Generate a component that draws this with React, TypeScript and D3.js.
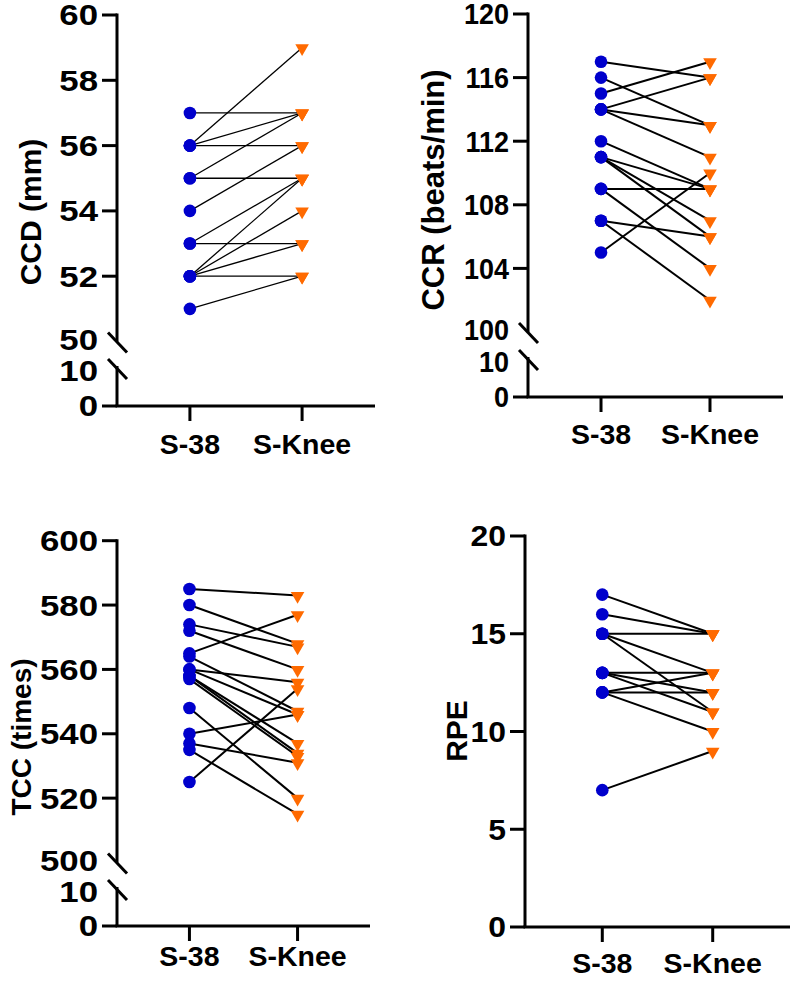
import React from "react";
import * as d3 from "d3";

// ---------- DATA ----------
const categories = ["S-38", "S-Knee"];

// CCD (mm)
const ccdS38 = [57, 56, 56, 56, 55, 55, 54, 53, 53, 52, 52, 52, 52, 51];
const ccdSKnee = [57, 59, 57, 56, 57, 55, 56, 55, 53, 55, 54, 53, 52, 52];

// CCR (beats/min)
const ccrS38 = [117, 116, 115, 114, 114, 114, 112, 111, 111, 111, 109, 109, 107, 107, 105];
const ccrSKnee = [116, 113, 117, 116, 113, 111, 109, 109, 107, 106, 109, 104, 106, 102, 110];

// TCC (times)
const tccS38 = [585, 580, 574, 572, 565, 564, 560, 560, 558, 558, 557, 548, 540, 537, 535, 525];
const tccSKnee = [583, 568, 567, 560, 577, 547, 556, 546, 537, 534, 533, 520, 546, 531, 515, 554];

// RPE
const rpeS38 = [17, 16, 15, 15, 15, 13, 13, 13, 12, 12, 12, 7];
const rpeSKnee = [15, 15, 15, 13, 11, 13, 12, 11, 13, 12, 10, 9];

// tick labels
const ccdUpperTicks = [50, 52, 54, 56, 58, 60];
const ccrUpperTicks = [100, 104, 108, 112, 116, 120];
const tccUpperTicks = [500, 520, 540, 560, 580, 600];
const lowerTicks = [0, 10];
const rpeTicks = [0, 5, 10, 15, 20];

// ---------- STYLE ----------
const BLUE = "#0000CC";
const ORANGE = "#FF6A00";
const FONT = "'Liberation Sans', Arial, Helvetica, sans-serif";
const TICK_FS = 29;
const CAT_FS = 28.5;
const AXIS_W = 3;
const TICK_LEN = 15;

type Panel = {
  title: string;
  titleX: number;
  titleY: number;
  titleFs: number;
  axisX: number;
  xEnd: number;
  pad: number;
  catBaseline: number;
  tickSx: number;
  left: number[];
  right: number[];
  lineW: number;
  broken: boolean;
  upperDomain: [number, number];
  upperRange: [number, number];
  upperTicks: number[];
  lowerRange?: [number, number];
};

const panels: Panel[] = [
  {
    title: "CCD (mm)", titleX: 30, titleY: 212, titleFs: 30,
    axisX: 117, xEnd: 375, pad: 0.65, catBaseline: 454, tickSx: 1.2,
    left: ccdS38, right: ccdSKnee, lineW: 1.3, broken: true,
    upperDomain: [50, 60], upperRange: [341.5, 15], upperTicks: ccdUpperTicks,
    lowerRange: [406, 369],
  },
  {
    title: "CCR (beats/min)", titleX: 433, titleY: 190, titleFs: 31,
    axisX: 528, xEnd: 783, pad: 0.67, catBaseline: 444, tickSx: 0.93,
    left: ccrS38, right: ccrSKnee, lineW: 2, broken: true,
    upperDomain: [100, 120], upperRange: [332, 14], upperTicks: ccrUpperTicks,
    lowerRange: [397, 360],
  },
  {
    title: "TCC (times)", titleX: 21, titleY: 737, titleFs: 28,
    axisX: 117, xEnd: 370, pad: 0.67, catBaseline: 966, tickSx: 1.2,
    left: tccS38, right: tccSKnee, lineW: 2, broken: true,
    upperDomain: [500, 600], upperRange: [862.5, 540.7], upperTicks: tccUpperTicks,
    lowerRange: [926, 890],
  },
  {
    title: "RPE", titleX: 456, titleY: 731, titleFs: 30,
    axisX: 525, xEnd: 790, pad: 0.7, catBaseline: 973, tickSx: 1.1,
    left: rpeS38, right: rpeSKnee, lineW: 2, broken: false,
    upperDomain: [0, 20], upperRange: [927, 536], upperTicks: rpeTicks,
  },
];

const triPath = d3.symbol().type(d3.symbolTriangle).size(80)() as string;

function PanelView({ p }: { p: Panel }) {
  const x = d3
    .scalePoint<string>()
    .domain(categories)
    .range([p.axisX, p.xEnd])
    .padding(p.pad);
  const yU = d3.scaleLinear().domain(p.upperDomain).range(p.upperRange);
  const yL = p.broken
    ? d3.scaleLinear().domain([0, 10]).range(p.lowerRange as [number, number])
    : yU;
  const baseY = p.broken ? yL(0) : yU(p.upperDomain[0]);
  const x0 = x(categories[0]) as number;
  const x1 = x(categories[1]) as number;
  const ax = p.axisX;
  const labelX = ax - TICK_LEN - 4;

  const tickText = (v: number, y: number) => (
    <text
      key={"t" + v + "_" + y}
      transform={`translate(${labelX},${y}) scale(${p.tickSx},1)`}
      dy="0.36em"
      textAnchor="end"
      fontFamily={FONT}
      fontWeight="bold"
      fontSize={TICK_FS}
      fill="#000"
    >
      {v}
    </text>
  );

  const slash = (cy: number, key: string) => (
    <line key={key} x1={ax - 9} y1={cy - 10} x2={ax + 10} y2={cy + 10} stroke="#000" strokeWidth={AXIS_W} />
  );

  return (
    <g>
      {/* y axis */}
      {p.broken ? (
        <g>
          <line x1={ax} x2={ax} y1={yU(p.upperDomain[1]) - AXIS_W / 2} y2={yU(p.upperDomain[0])} stroke="#000" strokeWidth={AXIS_W} />
          {slash(yU(p.upperDomain[0]) + 1, "s1")}
          <line x1={ax} x2={ax} y1={yL(10) - 3} y2={yL(0)} stroke="#000" strokeWidth={AXIS_W} />
          {slash(yL(10), "s2")}
          {p.upperTicks.map((v) => (
            <g key={"u" + v}>
              {v !== p.upperDomain[0] && (
                <line x1={ax - TICK_LEN} x2={ax} y1={yU(v)} y2={yU(v)} stroke="#000" strokeWidth={AXIS_W} />
              )}
              {tickText(v, yU(v) + (v === p.upperDomain[0] ? -2 : 0))}
            </g>
          ))}
          {lowerTicks.map((v) => (
            <g key={"l" + v}>
              {v === 0 && <line x1={ax - TICK_LEN} x2={ax} y1={yL(v)} y2={yL(v)} stroke="#000" strokeWidth={AXIS_W} />}
              {tickText(v, yL(v) + (v === 10 ? 2 : 0))}
            </g>
          ))}
        </g>
      ) : (
        <g>
          <line x1={ax} x2={ax} y1={yU(p.upperDomain[1]) - AXIS_W / 2} y2={yU(p.upperDomain[0])} stroke="#000" strokeWidth={AXIS_W} />
          {p.upperTicks.map((v) => (
            <g key={"u" + v}>
              <line x1={ax - TICK_LEN} x2={ax} y1={yU(v)} y2={yU(v)} stroke="#000" strokeWidth={AXIS_W} />
              {tickText(v, yU(v))}
            </g>
          ))}
        </g>
      )}

      {/* x axis */}
      <line x1={ax - AXIS_W / 2} x2={p.xEnd} y1={baseY} y2={baseY} stroke="#000" strokeWidth={AXIS_W} />
      {categories.map((c) => (
        <g key={c}>
          <line x1={x(c)} x2={x(c)} y1={baseY} y2={baseY + TICK_LEN} stroke="#000" strokeWidth={AXIS_W} />
          <text
            x={x(c)}
            y={p.catBaseline}
            textAnchor="middle"
            fontFamily={FONT}
            fontWeight="bold"
            fontSize={CAT_FS}
            fill="#000"
          >
            {c}
          </text>
        </g>
      ))}

      {/* title */}
      <text
        transform={`translate(${p.titleX},${p.titleY}) rotate(-90)`}
        textAnchor="middle"
        dy="0.36em"
        fontFamily={FONT}
        fontWeight="bold"
        fontSize={p.titleFs}
        fill="#000"
      >
        {p.title}
      </text>

      {/* paired lines */}
      {p.left.map((v, i) => (
        <line
          key={"pl" + i}
          x1={x0}
          y1={yU(v)}
          x2={x1}
          y2={yU(p.right[i])}
          stroke="#000"
          strokeWidth={p.lineW}
        />
      ))}
      {/* markers */}
      {p.left.map((v, i) => (
        <circle key={"c" + i} cx={x0} cy={yU(v)} r={6.3} fill={BLUE} />
      ))}
      {p.right.map((v, i) => (
        <path
          key={"tr" + i}
          d={triPath}
          transform={`translate(${x1},${yU(v) + 0.5}) rotate(180)`}
          fill={ORANGE}
        />
      ))}
    </g>
  );
}

export default function App() {
  return (
    <svg
      width={794}
      height={983}
      viewBox="0 0 794 983"
      style={{ position: "absolute", left: 0, top: 0, background: "#fff" }}
    >
      <rect x={0} y={0} width={794} height={983} fill="#fff" />
      {panels.map((p, i) => (
        <PanelView key={i} p={p} />
      ))}
    </svg>
  );
}
